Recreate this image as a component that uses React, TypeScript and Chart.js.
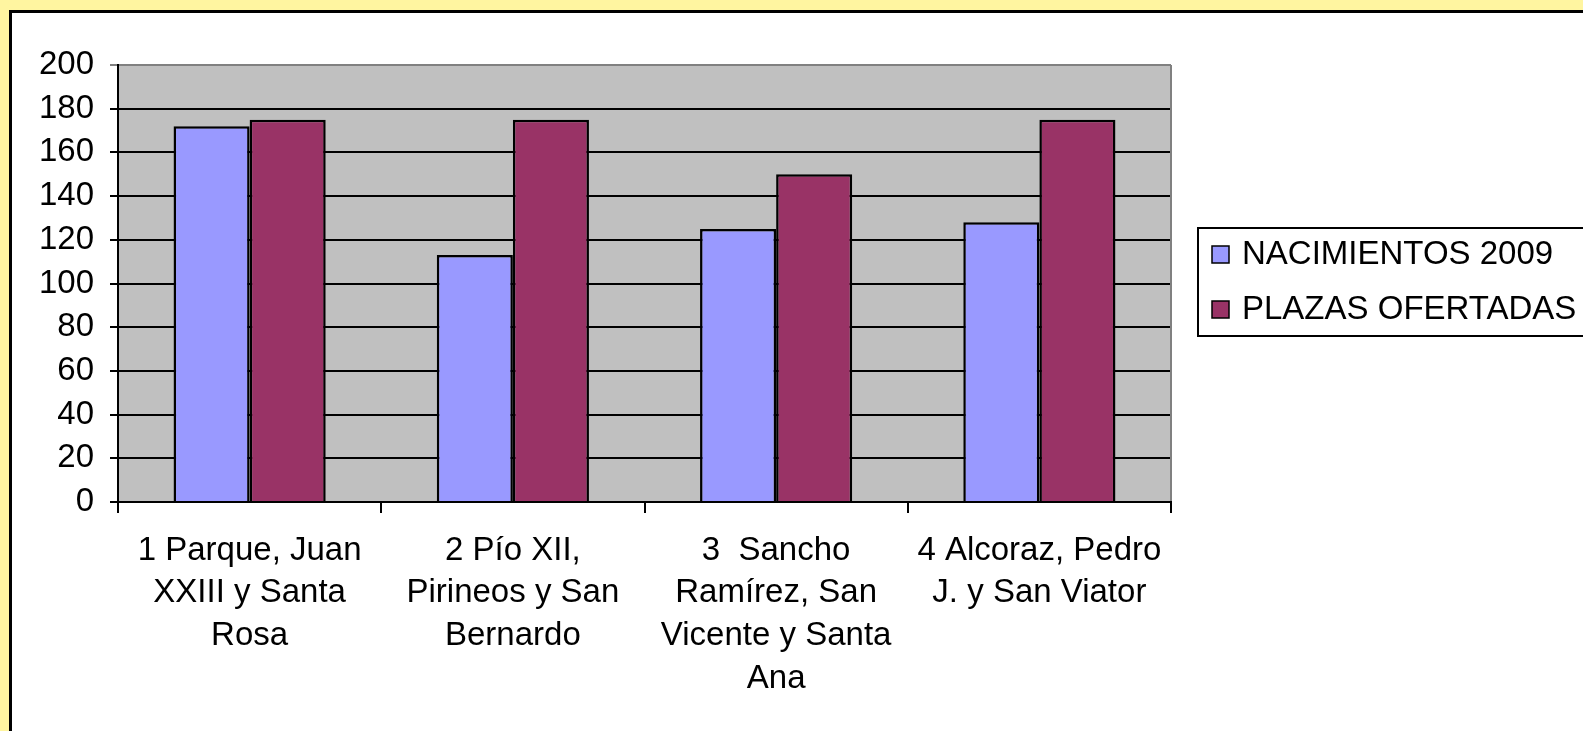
import React, { useEffect, useRef } from "react";
import { Chart, registerables } from "chart.js";

Chart.register(...registerables);

const categories: string[][] = [
  ["1 Parque, Juan", "XXIII y Santa", "Rosa"],
  ["2 Pío XII,", "Pirineos y San", "Bernardo"],
  ["3  Sancho", "Ramírez, San", "Vicente y Santa", "Ana"],
  ["4 Alcoraz, Pedro", "J. y San Viator"],
];
const seriesNames = ["NACIMIENTOS 2009", "PLAZAS OFERTADAS"];
const nacimientos = [172, 113, 125, 128];
const plazas = [175, 175, 150, 175];
const yMin = 0;
const yMax = 200;
const yStep = 20;

const COLORS = ["#9999FF", "#993366"];
const FONT = "'Liberation Sans', Arial, sans-serif";
const FS = 33;

export default function App() {
  const ref = useRef<HTMLCanvasElement | null>(null);

  useEffect(() => {
    const canvas = ref.current;
    if (!canvas) return;

    const framePlugin = {
      id: "frame",
      beforeDraw(chart: any) {
        const { ctx, chartArea } = chart;
        ctx.save();
        ctx.fillStyle = "#C0C0C0";
        ctx.fillRect(chartArea.left, chartArea.top, chartArea.right - chartArea.left, chartArea.bottom - chartArea.top);
        ctx.restore();
      },
      afterDraw(chart: any) {
        const { ctx, chartArea } = chart;
        ctx.save();
        ctx.strokeStyle = "#808080";
        ctx.lineWidth = 2;
        ctx.beginPath();
        ctx.moveTo(chartArea.right, chartArea.top);
        ctx.lineTo(chartArea.right, chartArea.bottom - 1);
        ctx.stroke();

        const lx = 1198;
        const ly = 228;
        const lw = 420;
        const lh = 108;
        ctx.fillStyle = "#FFFFFF";
        ctx.fillRect(lx, ly, lw, lh);
        ctx.strokeStyle = "#000";
        ctx.lineWidth = 2;
        ctx.strokeRect(lx, ly, lw, lh);
        ctx.font = `${FS}px ${FONT}`;
        ctx.textBaseline = "middle";
        ctx.textAlign = "left";
        const rows = [255, 310];
        seriesNames.forEach((name, i) => {
          const cy = rows[i];
          ctx.fillStyle = COLORS[i];
          ctx.fillRect(1212, cy - 9, 17, 17);
          ctx.strokeStyle = "#000";
          ctx.lineWidth = 1.5;
          ctx.strokeRect(1212, cy - 9, 17, 17);
          ctx.fillStyle = "#000";
          ctx.fillText(name, 1242, cy);
        });
        ctx.restore();
      },
    };

    const chart = new Chart(canvas, {
      type: "bar",
      data: {
        labels: categories,
        datasets: [
          {
            label: seriesNames[0],
            data: nacimientos,
            backgroundColor: COLORS[0],
            borderColor: "#000",
            borderWidth: 2.5,
            categoryPercentage: 0.578,
            barPercentage: 1.0,
          },
          {
            label: seriesNames[1],
            data: plazas,
            backgroundColor: COLORS[1],
            borderColor: "#000",
            borderWidth: 2.5,
            categoryPercentage: 0.578,
            barPercentage: 1.0,
          },
        ],
      },
      options: {
        animation: false,
        responsive: false,
        maintainAspectRatio: false,
        layout: { padding: { left: 0, top: 65, right: 412, bottom: 0 } },
        plugins: {
          legend: { display: false },
          tooltip: { enabled: false },
          title: { display: false },
        },
        scales: {
          x: {
            offset: true,
            grid: {
              offset: true,
              drawOnChartArea: false,
              drawTicks: true,
              tickLength: 11,
              color: "#000",
              lineWidth: 2,
            },
            border: { display: true, color: "#000", width: 2 },
            ticks: {
              autoSkip: false,
              maxRotation: 0,
              minRotation: 0,
              color: "#000",
              padding: 16,
              font: { family: FONT, size: FS, lineHeight: 1.3 },
            },
            afterFit(scale: any) {
              scale.height = 731 - 502;
            },
          },
          y: {
            min: yMin,
            max: yMax,
            grid: {
              color: (ctx: any) => (ctx.tick && ctx.tick.value === yMax ? "#808080" : "#000"),
              lineWidth: 2,
              drawTicks: true,
              tickLength: 8,
            },
            border: { display: true, color: "#000", width: 2 },
            ticks: {
              stepSize: yStep,
              color: "#000",
              padding: 16,
              font: { family: FONT, size: FS },
            },
            afterFit(scale: any) {
              scale.width = 118;
            },
          },
        },
      },
      plugins: [framePlugin],
    } as any);

    return () => chart.destroy();
  }, []);

  return (
    <div
      style={{
        position: "fixed",
        left: 0,
        top: 0,
        width: 1583,
        height: 731,
        background: "#FFF5A0",
        overflow: "hidden",
      }}
    >
      <div
        style={{
          position: "absolute",
          left: 9,
          top: 10,
          width: 1600,
          height: 760,
          background: "#FFFFFF",
          border: "3px solid #000",
        }}
      />
      <canvas
        ref={ref}
        width={1583}
        height={731}
        style={{ position: "absolute", left: 0, top: 0, width: 1583, height: 731 }}
      />
    </div>
  );
}
